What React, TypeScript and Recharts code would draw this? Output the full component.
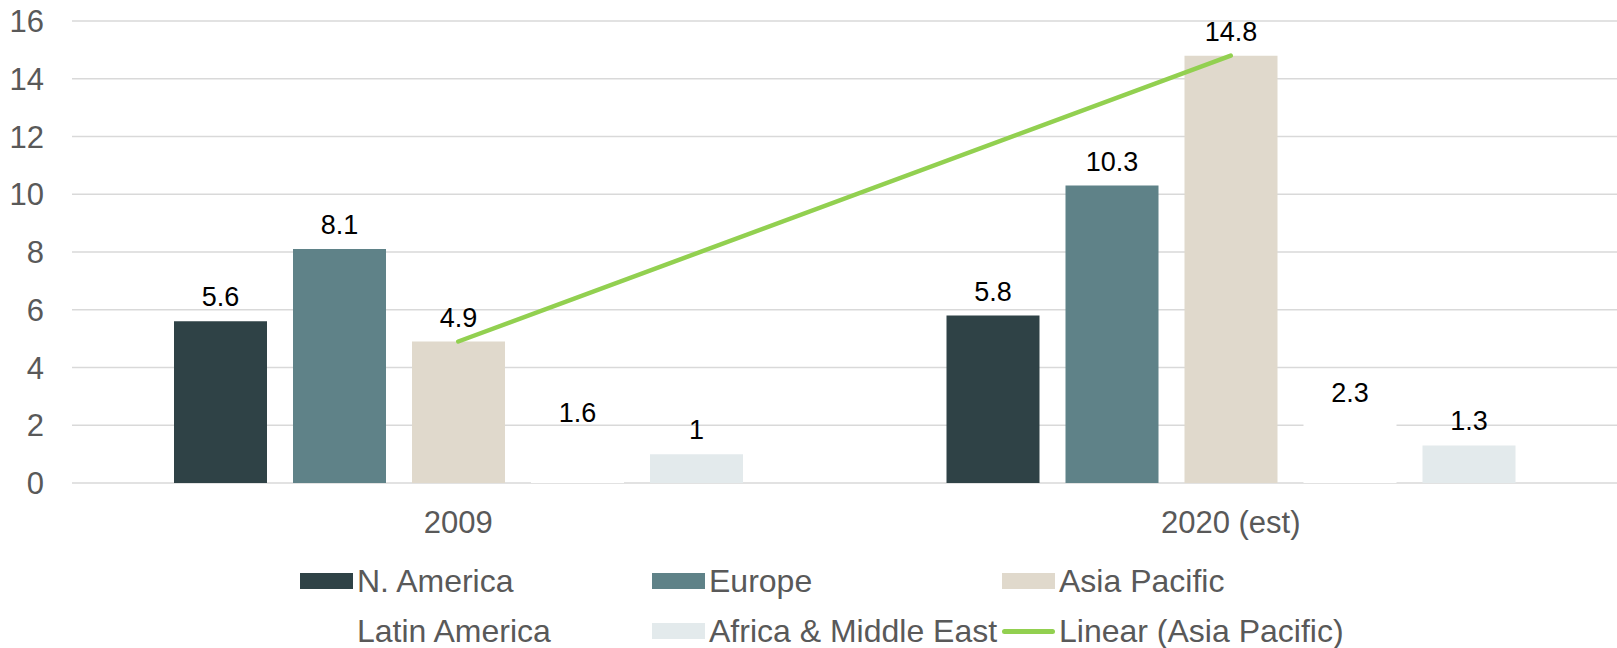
import { ComposedChart, Bar, Line, XAxis, YAxis, CartesianGrid, Legend, LabelList } from "recharts";

const years = ["2009", "2020 (est)"];
const nAmerica = [5.6, 5.8];
const europe = [8.1, 10.3];
const asiaPacific = [4.9, 14.8];
const latinAmerica = [1.6, 2.3];
const africaMiddleEast = [1, 1.3];
// linear trend through the two Asia Pacific values
const asiaTrend = [4.9, 14.8];
const yTicks = [0, 2, 4, 6, 8, 10, 12, 14, 16];

const series = [
  { key: "nAmerica", name: "N. America", color: "#2f4246" },
  { key: "europe", name: "Europe", color: "#5f8288" },
  { key: "asiaPacific", name: "Asia Pacific", color: "#e0d9cc" },
  { key: "latinAmerica", name: "Latin America", color: "#ffffff" },
  { key: "africaMiddleEast", name: "Africa & Middle East", color: "#e3eaec" },
];
const trendName = "Linear (Asia Pacific)";
const trendColor = "#92d050";

const data = years.map((year, i) => ({
  year,
  nAmerica: nAmerica[i],
  europe: europe[i],
  asiaPacific: asiaPacific[i],
  latinAmerica: latinAmerica[i],
  africaMiddleEast: africaMiddleEast[i],
  trend: asiaTrend[i],
}));

const textGrey = "#595959";

// legend: three columns, two rows (positions relative to the legend box)
const legendCols = [300, 652, 1002];
const legendRows = [28, 78];

const renderLegend = () => {
  const items = [
    ...series.map((s) => ({ name: s.name, color: s.color, line: false })),
    { name: trendName, color: trendColor, line: true },
  ];
  return (
    <div style={{ position: "relative", height: 115, width: 1617 }}>
      {items.map((it, i) => (
        <div
          key={it.name}
          style={{
            position: "absolute",
            left: legendCols[i % 3],
            top: legendRows[Math.floor(i / 3)],
            height: 40,
            display: "flex",
            alignItems: "center",
            whiteSpace: "nowrap",
          }}
        >
          {it.line ? (
            <div style={{ width: 53, height: 5, borderRadius: 3, background: it.color, marginRight: 4 }} />
          ) : (
            <div style={{ width: 53, height: 16, background: it.color, marginRight: 4 }} />
          )}
          <span style={{ fontSize: 32, color: textGrey, lineHeight: "40px" }}>{it.name}</span>
        </div>
      ))}
    </div>
  );
};

export default function App() {
  return (
    <div
      style={{
        position: "absolute",
        left: 0,
        top: 0,
        width: 1617,
        height: 648,
        background: "#fff",
        fontFamily: "'Liberation Sans', Arial, sans-serif",
      }}
    >
      <ComposedChart
        width={1617}
        height={648}
        data={data}
        margin={{ top: 21, right: 0, left: 0, bottom: 0 }}
        barSize={93}
        barGap={26}
      >
        <CartesianGrid vertical={false} stroke="#d9d9d9" strokeWidth={1.5} />
        <XAxis
          dataKey="year"
          height={50}
          axisLine={false}
          tickLine={false}
          tickSize={0}
          tickMargin={28}
          tick={{ fill: textGrey, fontSize: 31 }}
        />
        <YAxis
          width={72}
          domain={[0, 16]}
          ticks={yTicks}
          interval={0}
          axisLine={false}
          tickLine={false}
          tickSize={0}
          tickMargin={28}
          tick={{ fill: textGrey, fontSize: 31 }}
        />
        <Legend verticalAlign="bottom" content={renderLegend} />
        {series.map((s) => (
          <Bar key={s.key} dataKey={s.key} name={s.name} fill={s.color} isAnimationActive={false}>
            <LabelList dataKey={s.key} position="top" offset={15} fill="#000" fontSize={27} />
          </Bar>
        ))}
        <Line
          dataKey="trend"
          name={trendName}
          stroke={trendColor}
          strokeWidth={4.5}
          strokeLinecap="round"
          dot={false}
          activeDot={false}
          isAnimationActive={false}
        />
      </ComposedChart>
    </div>
  );
}
